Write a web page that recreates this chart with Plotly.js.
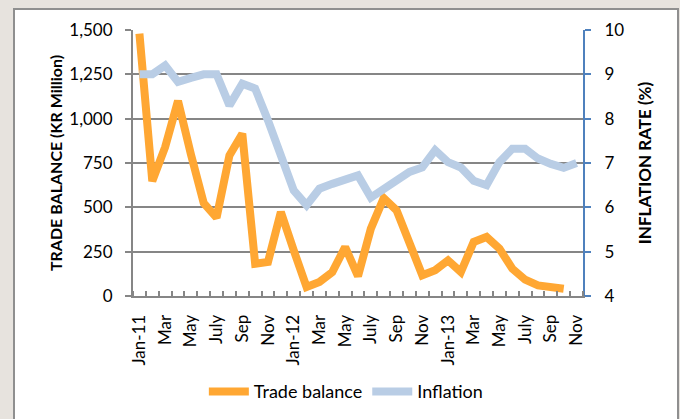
<!DOCTYPE html>
<html>
<head>
<meta charset="utf-8">
<script src="https://cdn.plot.ly/plotly-3.0.1.min.js"></script>
<style>
  html, body { margin: 0; padding: 0; background: #e7e3de; overflow: hidden; width: 680px; height: 419px; }
  #frame { position: absolute; left: 13px; top: 8px; border: 2px solid #8f8f8f; border-bottom: none; background: #fff; }
  #chart { width: 662px; height: 412px; }
</style>
</head>
<body>
<div id="frame"><div id="chart"></div></div>
<script>
// Monthly categories Jan-2011 .. Nov-2013
const months = ["Jan-11","Feb","Mar","Apr","May","June","July","Aug","Sep","Oct","Nov","Dec",
                "Jan-12","Feb","Mar","Apr","May","June","July","Aug","Sep","Oct","Nov","Dec",
                "Jan-13","Feb","Mar","Apr","May","June","July","Aug","Sep","Oct","Nov"];
// Trade balance (KR Million), Jan-11 .. Oct-13
const tradeBalance = [1480, 648, 840, 1100, 800, 524, 442, 793, 915, 182, 192, 474,
                      258, 51, 79, 135, 276, 112, 380, 552, 483, 314, 117, 145,
                      201, 135, 305, 333, 267, 154, 92, 60, 51, 41];
// Inflation rate (%), Jan-11 .. Nov-13
const inflation = [9.0, 9.0, 9.2, 8.83, 8.92, 9.0, 9.0, 8.3, 8.79, 8.68, 7.96, 7.17,
                   6.38, 6.05, 6.42, 6.53, 6.62, 6.72, 6.22, 6.4, 6.6, 6.8, 6.9, 7.29,
                   7.02, 6.9, 6.6, 6.5, 7.02, 7.32, 7.32, 7.1, 6.98, 6.89, 7.0];
const leftTicks = [0, 250, 500, 750, 1000, 1250, 1500];
const leftTickText = ["0", "250", "500", "750", "1,000", "1,250", "1,500"];
const rightTicks = [4, 5, 6, 7, 8, 9, 10];

const idx = months.map((m, i) => i);
const labelIdx = idx.filter(i => i % 2 === 0);
const labelText = labelIdx.map(i => months[i]);

const FONT = "Lato, 'Open Sans', sans-serif";

const traces = [
  {
    x: idx.slice(0, tradeBalance.length), y: tradeBalance, name: "Trade balance",
    type: "scatter", mode: "lines",
    line: { color: "#ffa733", width: 8 }, yaxis: "y"
  },
  {
    x: idx, y: inflation, name: "Inflation",
    type: "scatter", mode: "lines",
    line: { color: "#b9cde5", width: 8 }, yaxis: "y2"
  }
];

const layout = {
  width: 662, height: 412,
  margin: { l: 118, r: 94, t: 20, b: 126 },
  paper_bgcolor: "#ffffff", plot_bgcolor: "#ffffff",
  font: { family: FONT, size: 17, color: "#000" },
  showlegend: true,
  legend: {
    orientation: "h", x: 0.473, xanchor: "center", y: -0.36, yanchor: "middle",
    font: { family: FONT, size: 18, color: "#000" }, itemwidth: 40, traceorder: "normal"
  },
  xaxis: {
    range: [-0.5, 34.5], showgrid: false, zeroline: false,
    tickmode: "array", tickvals: labelIdx, ticktext: labelText, tickangle: -90,
    ticks: "", ticklen: 0, tickfont: { family: FONT, size: 17, color: "#000" },
    ticklabelstandoff: 10,
    showline: true, linecolor: "#868686", linewidth: 2,
    minor: { ticks: "inside", ticklen: 5, tickcolor: "#868686", tickwidth: 2,
             tickmode: "linear", tick0: -0.5, dtick: 1, showgrid: false },
    fixedrange: true
  },
  yaxis: {
    range: [0, 1500], tickmode: "array", tickvals: leftTicks, ticktext: leftTickText,
    showgrid: true, gridcolor: "#868686", gridwidth: 2, zeroline: false,
    showline: true, linecolor: "#868686", linewidth: 2,
    ticks: "outside", ticklen: 6, tickwidth: 2, tickcolor: "#868686",
    tickfont: { family: FONT, size: 17, color: "#000" }, ticklabelstandoff: 9,
    title: { text: "TRADE BALANCE (KR Million)", font: { family: FONT, size: 16, color: "#000", weight: "bold" }, standoff: 3 },
    fixedrange: true
  },
  yaxis2: {
    range: [4, 10], overlaying: "y", side: "right", tickvals: rightTicks,
    showgrid: false, zeroline: false,
    showline: true, linecolor: "#4f81bd", linewidth: 2,
    ticks: "outside", ticklen: 6, tickwidth: 2, tickcolor: "#4f81bd",
    tickfont: { family: FONT, size: 17, color: "#000" }, ticklabelstandoff: 10,
    title: { text: "INFLATION RATE (%)", font: { family: FONT, size: 17, color: "#000", weight: "bold" }, standoff: 16 },
    fixedrange: true
  }
};

Plotly.newPlot("chart", traces, layout, { displayModeBar: false, staticPlot: true });
</script>
</body>
</html>
